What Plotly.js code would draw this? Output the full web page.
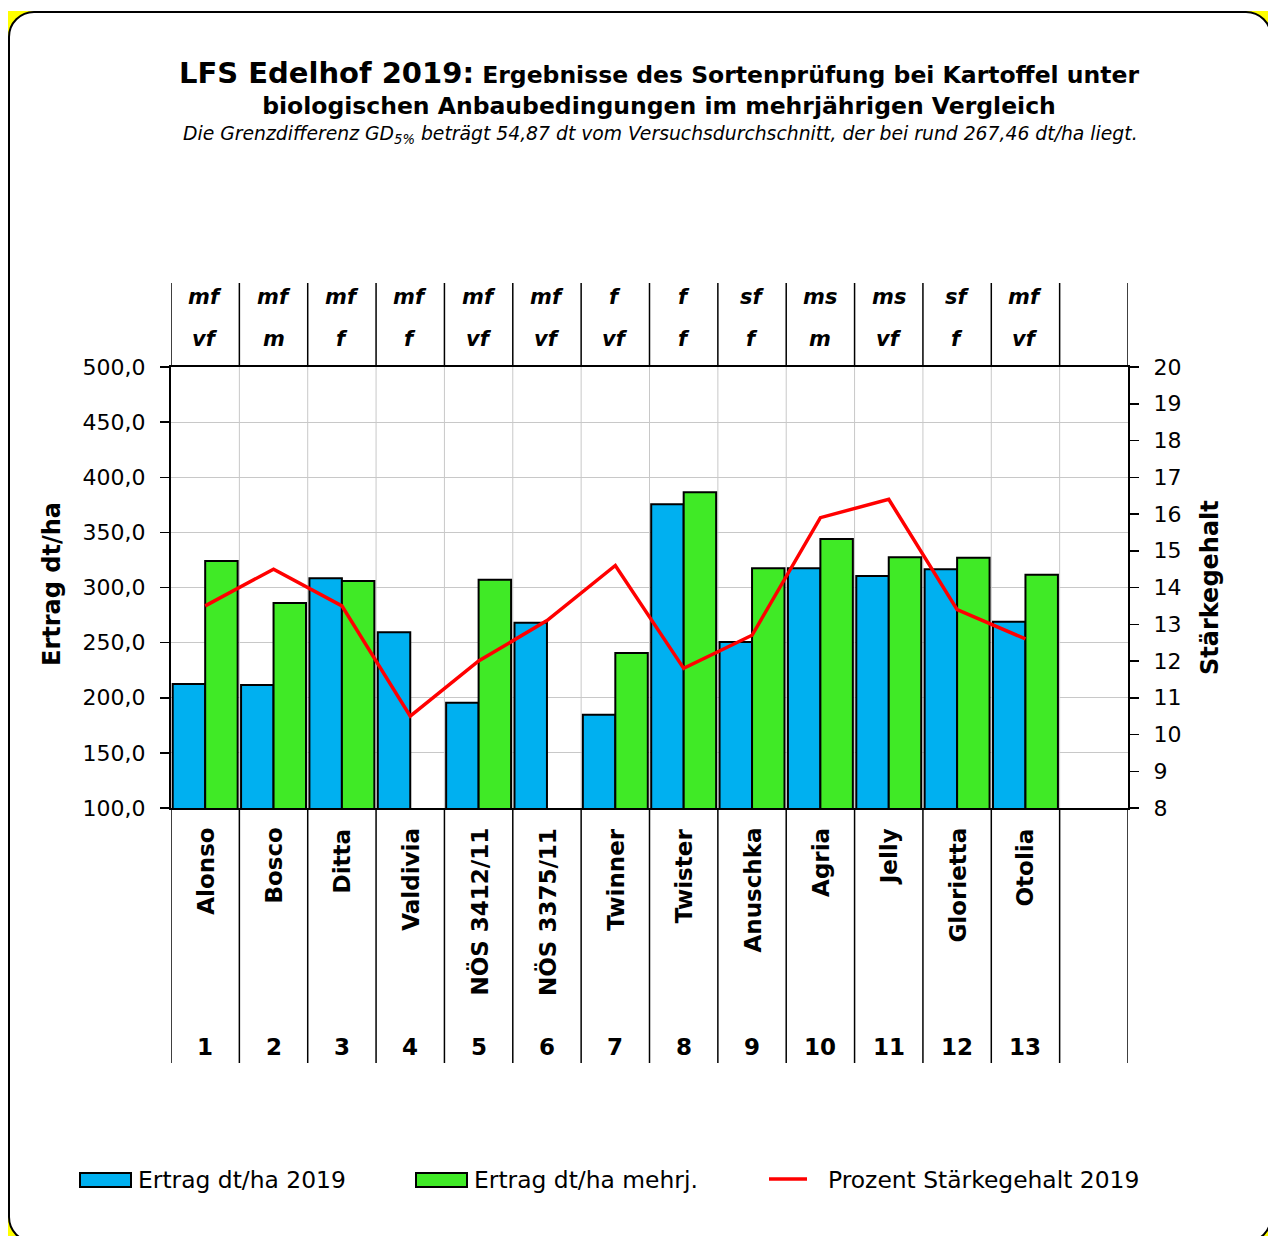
<!DOCTYPE html>
<html><head><meta charset="utf-8">
<script src="https://cdn.plot.ly/plotly-3.0.1.min.js"></script>
<style>
html,body{margin:0;padding:0;width:1268px;height:1236px;overflow:hidden;background:#fff;}
#frame{position:absolute;left:8px;top:11px;width:1264px;height:1232px;background:#ffff00;}
#inner{position:absolute;left:0;top:0;width:1264px;height:1232px;box-sizing:border-box;background:#fff;border:2px solid #000;border-radius:26px;}
#chart{position:absolute;left:0;top:0;width:1268px;height:1236px;}
</style></head><body>
<div id="frame"><div id="inner"></div></div>
<div id="chart"></div>
<script>
const categories = ["Alonso","Bosco","Ditta","Valdivia","NÖS 3412/11","NÖS 3375/11","Twinner","Twister","Anuschka","Agria","Jelly","Glorietta","Otolia"];
const numbers = ["1","2","3","4","5","6","7","8","9","10","11","12","13"];
const reife = ["mf","mf","mf","mf","mf","mf","f","f","sf","ms","ms","sf","mf"];
const kochtyp = ["vf","m","f","f","vf","vf","vf","f","f","m","vf","f","vf"];
const ertrag2019 = [212.5, 211.5, 308.5, 259.5, 195.5, 268.0, 184.5, 375.5, 250.5, 317.5, 310.5, 316.5, 269.0];
const ertragMehrj = [324.0, 286.0, 306.0, null, 307.0, null, 240.5, 386.5, 317.5, 344.0, 327.5, 327.0, 311.5];
const staerke2019 = [13.5, 14.5, 13.5, 10.5, 12.0, 13.1, 14.6, 11.8, 12.7, 15.9, 16.4, 13.4, 12.6];
const seriesNames = ["Ertrag dt/ha 2019","Ertrag dt/ha mehrj.","Prozent Stärkegehalt 2019"];

const FONT = "DejaVu Sans";
const W = 1268, H = 1236;
const L = 171, R = 1128, T = 367, B = 808;
const px2x = p => (p - L) / (R - L);
const py2y = p => (B - p) / (B - T);

const BLUE = "#00B0F0", GREEN = "#40EA26", RED = "#FF0000";

const traces = [
  {type:"bar", name:seriesNames[0], x:categories, y:ertrag2019, marker:{color:BLUE, line:{color:"#000", width:2}}, yaxis:"y", showlegend:false},
  {type:"bar", name:seriesNames[1], x:categories, y:ertragMehrj, marker:{color:GREEN, line:{color:"#000", width:2}}, yaxis:"y", showlegend:false},
  {type:"scatter", mode:"lines", name:seriesNames[2], x:categories, y:staerke2019, line:{color:RED, width:3.5}, yaxis:"y2", showlegend:false}
];

const shapes = [];
const annotations = [];
const nCols = categories.length + 1;
for (let i = 0; i <= nCols; i++) {
  const xb = i - 0.5;
  if (i > 0 && i < nCols) {
    shapes.push({type:"line", xref:"x", yref:"paper", x0:xb, x1:xb, y0:0, y1:1, line:{color:"#c8c8c8", width:1}, layer:"below"});
  }
  shapes.push({type:"line", xref:"x", yref:"paper", x0:xb, x1:xb, y0:1, y1:py2y(283), line:{color:"#000", width:1.5}});
  shapes.push({type:"line", xref:"x", yref:"paper", x0:xb, x1:xb, y0:0, y1:py2y(1063), line:{color:"#000", width:1.5}});
}
categories.forEach((c, i) => {
  annotations.push({xref:"x", yref:"paper", x:i, y:py2y(826), text:"<b>"+c+"</b>", textangle:-90, showarrow:false, xanchor:"center", yanchor:"top", font:{family:FONT, size:23, color:"#000"}});
  annotations.push({xref:"x", yref:"paper", x:i, y:py2y(1047), text:"<b>"+numbers[i]+"</b>", showarrow:false, xanchor:"center", yanchor:"middle", font:{family:FONT, size:23, color:"#000"}});
  annotations.push({xref:"x", yref:"paper", x:i, y:py2y(297), text:"<b><i>"+reife[i]+"</i></b>", showarrow:false, xanchor:"center", yanchor:"middle", font:{family:FONT, size:21, color:"#000"}});
  annotations.push({xref:"x", yref:"paper", x:i, y:py2y(339), text:"<b><i>"+kochtyp[i]+"</i></b>", showarrow:false, xanchor:"center", yanchor:"middle", font:{family:FONT, size:21, color:"#000"}});
});

// axis titles
annotations.push({xref:"paper", yref:"paper", x:px2x(52), y:py2y(584), text:"<b>Ertrag dt/ha</b>", textangle:-90, showarrow:false, xanchor:"center", yanchor:"middle", font:{family:FONT, size:24, color:"#000"}});
annotations.push({xref:"paper", yref:"paper", x:px2x(1210), y:py2y(588), text:"<b>Stärkegehalt</b>", textangle:-90, showarrow:false, xanchor:"center", yanchor:"middle", font:{family:FONT, size:24, color:"#000"}});

// subtitle
annotations.push({xref:"paper", yref:"paper", x:px2x(660), y:py2y(135), text:"<i>Die Grenzdifferenz GD<sub>5%</sub> beträgt 54,87 dt vom Versuchsdurchschnitt, der bei rund 267,46 dt/ha liegt.</i>", showarrow:false, xanchor:"center", yanchor:"middle", font:{family:FONT, size:18.8, color:"#000"}});

// custom legend
const legY = 1180;
shapes.push({type:"rect", xref:"paper", yref:"paper", x0:px2x(80), x1:px2x(131), y0:py2y(1187), y1:py2y(1173), fillcolor:BLUE, line:{color:"#000", width:2}});
shapes.push({type:"rect", xref:"paper", yref:"paper", x0:px2x(416), x1:px2x(467), y0:py2y(1187), y1:py2y(1173), fillcolor:GREEN, line:{color:"#000", width:2}});
shapes.push({type:"line", xref:"paper", yref:"paper", x0:px2x(769), x1:px2x(807), y0:py2y(1179), y1:py2y(1179), line:{color:RED, width:3.5}});
[[136, seriesNames[0]], [472, seriesNames[1]], [826, seriesNames[2]]].forEach(([p, t]) => {
  annotations.push({xref:"paper", yref:"paper", x:px2x(p), y:py2y(legY), text:t, showarrow:false, xanchor:"left", yanchor:"middle", font:{family:FONT, size:23.4, color:"#000"}});
});

const layout = {
  width:W, height:H,
  margin:{l:L, r:W-R, t:T, b:H-B, pad:0},
  paper_bgcolor:"rgba(0,0,0,0)",
  plot_bgcolor:"#fff",
  separators:",.",
  font:{family:FONT, color:"#000"},
  title:{
    text:"<b><span style='font-size:29px'>LFS Edelhof 2019:</span> Ergebnisse des Sortenprüfung bei Kartoffel unter</b><br><b>biologischen Anbaubedingungen im mehrjährigen Vergleich</b>",
    font:{family:FONT, size:23.5, color:"#000"},
    x:659/W, xanchor:"center", xref:"container",
    y:1 - 83/H, yanchor:"top", yref:"container"
  },
  showlegend:false,
  barmode:"group", bargap:0.05, bargroupgap:0,
  xaxis:{type:"category", categoryarray:categories, categoryorder:"array", range:[-0.5, 13.5], showticklabels:false, ticks:"", showgrid:false, zeroline:false, showline:true, mirror:true, linecolor:"#000", linewidth:2, fixedrange:true},
  yaxis:{range:[100,500], tick0:100, dtick:50, tickformat:".1f", ticks:"outside", ticklen:9, tickwidth:1.5, tickcolor:"#000", showline:true, linecolor:"#000", linewidth:2, showgrid:true, gridcolor:"#c8c8c8", gridwidth:1, zeroline:false, tickfont:{family:FONT, size:22, color:"#000"}, ticklabelstandoff:10, fixedrange:true},
  yaxis2:{overlaying:"y", side:"right", range:[8,20], tick0:8, dtick:1, ticks:"outside", ticklen:9, tickwidth:1.5, tickcolor:"#000", showline:true, linecolor:"#000", linewidth:2, showgrid:false, zeroline:false, tickfont:{family:FONT, size:22, color:"#000"}, ticklabelstandoff:10, fixedrange:true},
  shapes:shapes,
  annotations:annotations
};

Plotly.newPlot("chart", traces, layout, {displayModeBar:false, staticPlot:true});
</script>
</body></html>
